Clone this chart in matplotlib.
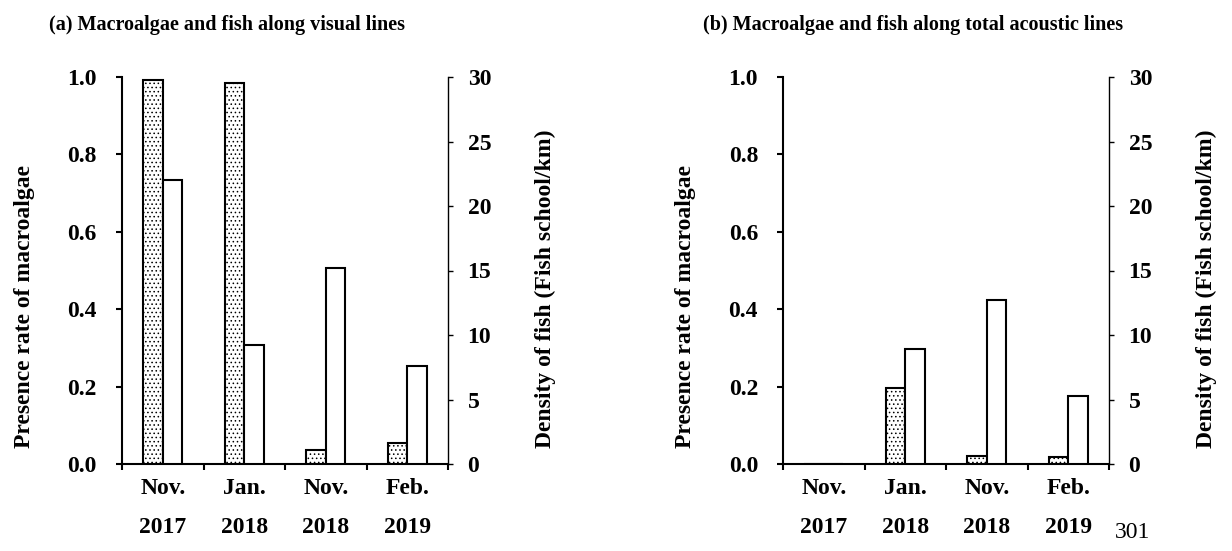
import numpy as np
import matplotlib
matplotlib.use("Agg")
import matplotlib.pyplot as plt

plt.rcParams['font.family'] = ['Liberation Serif', 'DejaVu Serif']
plt.rcParams['font.weight'] = 'bold'
plt.rcParams['hatch.linewidth'] = 0.6

# survey periods
periods = ["Nov.\n2017", "Jan.\n2018", "Nov.\n2018", "Feb.\n2019"]

# (a) visual lines
algae_visual = [0.993, 0.985, 0.036, 0.053]
fish_visual = [22.0, 9.2, 15.2, 7.6]

# (b) total acoustic lines
algae_acoustic = [0.0, 0.197, 0.021, 0.018]
fish_acoustic = [0.0, 8.9, 12.7, 5.3]

titles = ["(a) Macroalgae and fish along visual lines",
          "(b) Macroalgae and fish along total acoustic lines"]

fig = plt.figure(figsize=(12.32, 5.51), dpi=100)

W, H = 1232, 551
panels = [(122, 448), (783, 1109)]
top, bottom = 77, 464
bw = 0.24
tick_fs = 17


def draw_panel(x0, x1, algae, fish, title, title_x):
    ax = fig.add_axes([x0 / W, (H - bottom) / H, (x1 - x0) / W, (bottom - top) / H])
    ax2 = ax.twinx()
    x = np.arange(len(periods))
    ax.bar(x - bw / 2, algae, width=bw, color='white', edgecolor='black',
           linewidth=1.5, hatch='....', zorder=3)
    ax2.bar(x + bw / 2, fish, width=bw, color='white', edgecolor='black',
            linewidth=1.5, zorder=3)

    ax.set_xlim(-0.5, 3.5)
    ax.set_ylim(0, 1.0)
    ax2.set_ylim(0, 30)
    ax.set_yticks(np.arange(0, 1.01, 0.2))
    ax.set_yticklabels([f"{v:.1f}" for v in np.arange(0, 1.01, 0.2)])
    ax2.set_yticks(np.arange(0, 31, 5))

    # category boundaries as ticks, names centred between them
    ax.set_xticks(np.arange(-0.5, 3.6, 1.0))
    ax.set_xticklabels([])
    ax.set_xticks(x, minor=True)
    ax.set_xticklabels(periods, minor=True, fontsize=tick_fs, linespacing=2.15)
    ax.tick_params(axis='x', which='minor', length=0, pad=10)
    ax.tick_params(axis='x', which='major', length=4.5, width=1.5, direction='out')
    ax.tick_params(axis='y', length=4, width=1.5, direction='out', labelsize=tick_fs, pad=14)
    ax2.tick_params(axis='y', length=3.6, width=1.0, direction='out', labelsize=tick_fs, pad=10.5)

    for a in (ax, ax2):
        a.spines['top'].set_visible(False)
    ax.spines['left'].set_linewidth(1.5)
    ax.spines['bottom'].set_linewidth(1.5)
    ax.spines['right'].set_visible(False)
    ax2.spines['left'].set_visible(False)
    ax2.spines['bottom'].set_visible(False)
    ax2.spines['right'].set_linewidth(1.0)

    fig.text((x0 - 97) / W, (H - 448) / H, "Presence rate of macroalgae",
             rotation=90, ha='center', va='bottom', fontsize=tick_fs)
    fig.text((x1 + 97) / W, (H - 448) / H, "Density of fish (Fish school/km)",
             rotation=90, ha='center', va='bottom', fontsize=tick_fs)
    fig.text(title_x / W, 1 - 25 / H, title, ha='left', va='center', fontsize=14.5)


draw_panel(*panels[0], algae_visual, fish_visual, titles[0], 49)
draw_panel(*panels[1], algae_acoustic, fish_acoustic, titles[1], 703)

fig.text(1115 / W, 1 - 533 / H, "301", ha='left', va='center',
         fontsize=17, fontweight='normal')

fig.savefig("out.png", dpi=100)
